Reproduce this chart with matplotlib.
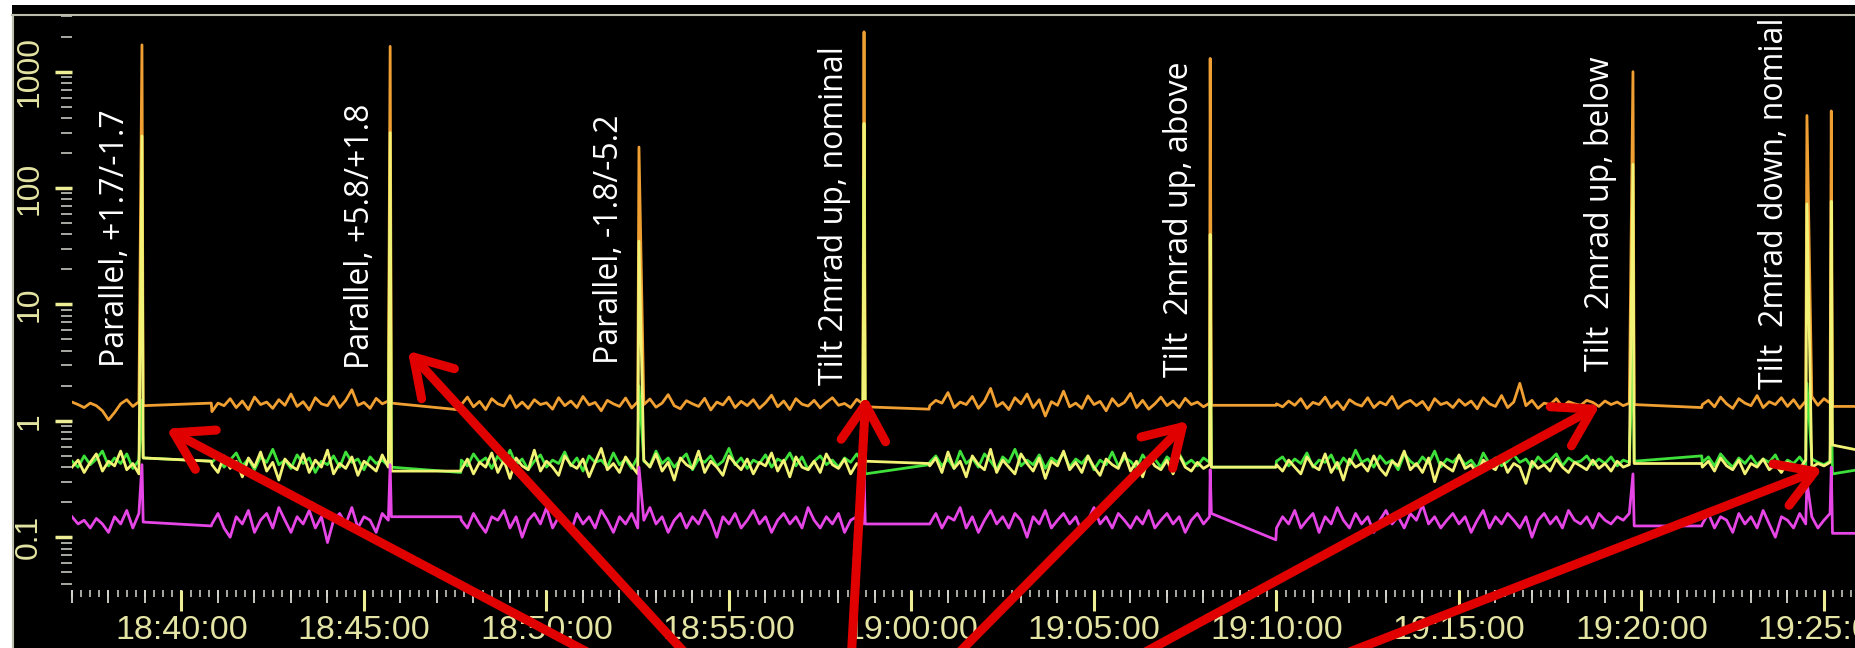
import numpy as np
import matplotlib
matplotlib.use("Agg")
import matplotlib.pyplot as plt
from matplotlib.ticker import MultipleLocator, FuncFormatter, LogLocator, NullFormatter
from matplotlib.lines import Line2D
from matplotlib.patches import Rectangle


def clock(s):
    h, m, sec = map(int, s.split(":"))
    return h * 3600 + m * 60 + sec


def hms(x, pos=None):
    x = int(round(x))
    return f"{x // 3600:02d}:{x % 3600 // 60:02d}:{x % 60:02d}"


# time axis
x_range = ["18:37:00", "19:25:51"]
seg_start = ["18:37:00", "18:40:50", "18:47:40", "19:00:30", "19:10:00", "19:21:40"]
seg_end = ["18:38:50", "18:45:40", "18:58:40", "19:08:10", "19:19:40", "19:25:10"]
spike_times = ["18:38:55", "18:45:43", "18:52:32", "18:58:42",
               "19:08:11", "19:19:46", "19:24:32", "19:25:12"]
gap_spike = [0, 1, 3, 4, 5]   # spikes followed by a data gap

yticks = [0.1, 1, 10, 100, 1000]
ytick_labels = ["0.1", "1", "10", "100", "1000"]

# orange trace
orange_noise = [
    [1.45, 1.38, 1.30, 1.42, 1.35, 1.22, 1.02, 1.18, 1.40, 1.52, 1.33, 1.46],
    [1.20, 1.42, 1.35, 1.55, 1.30, 1.48, 1.25, 1.60, 1.38, 1.45, 1.28, 1.52, 1.36, 1.70, 1.33,
     1.46, 1.24, 1.58, 1.40, 1.35, 1.62, 1.30, 1.50, 1.85, 1.36, 1.44, 1.28, 1.56, 1.40, 1.48],
    [1.38, 1.60, 1.32, 1.47, 1.25, 1.55, 1.40, 1.34, 1.65, 1.30, 1.45, 1.28, 1.52, 1.38, 1.43,
     1.26, 1.58, 1.35, 1.48, 1.30, 1.62, 1.37, 1.44, 1.22, 1.50, 1.40, 1.33, 1.57, 1.29, 1.46,
     1.38, 1.54, 1.31, 1.42, 1.68, 1.35, 1.27, 1.49, 1.40, 1.33, 1.56, 1.24, 1.45, 1.37, 1.60,
     1.30, 1.47, 1.35, 1.52, 1.28, 1.43, 1.66, 1.32, 1.48, 1.25, 1.55, 1.39, 1.34, 1.50, 1.29,
     1.44, 1.58, 1.36, 1.41, 1.30, 1.53, 1.40],
    [1.35, 1.50, 1.42, 1.75, 1.30, 1.45, 1.38, 1.62, 1.28, 1.48, 1.90, 1.33, 1.44, 1.25, 1.58,
     1.40, 1.70, 1.30, 1.52, 1.10, 1.46, 1.36, 1.80, 1.32, 1.42, 1.28, 1.64, 1.38, 1.47, 1.22,
     1.55, 1.34, 1.44, 1.72, 1.30, 1.50, 1.26, 1.40, 1.60, 1.35, 1.48, 1.30, 1.56, 1.38, 1.45,
     1.32, 1.42],
    [1.40, 1.32, 1.48, 1.36, 1.55, 1.28, 1.44, 1.38, 1.60, 1.30, 1.46, 1.25, 1.52, 1.40, 1.34,
     1.58, 1.30, 1.45, 1.37, 1.62, 1.28, 1.42, 1.50, 1.35, 1.47, 1.24, 1.55, 1.38, 1.44, 1.30,
     1.52, 1.36, 1.48, 1.27, 1.58, 1.40, 1.33, 1.65, 1.30, 1.45, 2.10, 1.35, 1.50, 1.28, 1.42,
     1.38, 1.55, 1.32, 1.46, 1.40, 1.36, 1.50, 1.44, 1.33, 1.48, 1.38, 1.45, 1.35, 1.42],
    [1.38, 1.50, 1.32, 1.60, 1.40, 1.28, 1.55, 1.42, 1.35, 1.65, 1.30, 1.46, 1.38, 1.58, 1.33,
     1.52, 1.28, 1.48, 1.62, 1.36, 1.55, 1.42],
]
orange_peaks = [1700, 1650, 225, 2200, 1300, 1000, 420, 460]
orange_gaps = [(1.35, 1.42), (1.42, 1.24), (1.32, 1.26), (1.36, 1.36), (1.38, 1.30)]
orange_tail = (1.33, 1.33)

# yellow trace
yellow_noise = [
    [0.40, 0.46, 0.36, 0.44, 0.52, 0.37, 0.45, 0.41, 0.55, 0.38, 0.43, 0.35],
    [0.42, 0.36, 0.50, 0.39, 0.45, 0.33, 0.48, 0.40, 0.54, 0.37, 0.44, 0.31, 0.47, 0.41, 0.38,
     0.52, 0.36, 0.46, 0.40, 0.56, 0.35, 0.43, 0.39, 0.49, 0.34, 0.45, 0.41, 0.37, 0.51, 0.40],
    [0.38, 0.47, 0.35, 0.44, 0.40, 0.53, 0.36, 0.46, 0.32, 0.48, 0.41, 0.38, 0.56, 0.37, 0.45,
     0.40, 0.34, 0.50, 0.42, 0.39, 0.47, 0.33, 0.44, 0.58, 0.38, 0.43, 0.36, 0.49, 0.41, 0.35,
     0.46, 0.40, 0.52, 0.37, 0.44, 0.31, 0.48, 0.42, 0.39, 0.55, 0.36, 0.45, 0.40, 0.34, 0.50,
     0.43, 0.38, 0.47, 0.35, 0.44, 0.41, 0.53, 0.37, 0.46, 0.33, 0.49, 0.40, 0.38, 0.45, 0.36,
     0.52, 0.42, 0.39, 0.47, 0.35, 0.43, 0.40],
    [0.41, 0.48, 0.36, 0.54, 0.39, 0.45, 0.33, 0.50, 0.42, 0.38, 0.57, 0.36, 0.46, 0.40, 0.35,
     0.52, 0.43, 0.37, 0.48, 0.32, 0.45, 0.41, 0.55, 0.38, 0.44, 0.36, 0.50, 0.40, 0.34, 0.47,
     0.42, 0.39, 0.53, 0.37, 0.45, 0.33, 0.49, 0.41, 0.38, 0.46, 0.35, 0.51, 0.40, 0.37, 0.44,
     0.39, 0.42],
    [0.42, 0.37, 0.46, 0.40, 0.35, 0.49, 0.41, 0.38, 0.52, 0.36, 0.44, 0.31, 0.47, 0.40, 0.43,
     0.37, 0.50, 0.39, 0.34, 0.45, 0.41, 0.55, 0.38, 0.43, 0.36, 0.48, 0.30, 0.44, 0.40, 0.37,
     0.51, 0.39, 0.42, 0.35, 0.46, 0.41, 0.38, 0.49, 0.36, 0.43, 0.40, 0.29, 0.45, 0.39, 0.42,
     0.37, 0.47, 0.40, 0.36, 0.44, 0.41, 0.38, 0.46, 0.39, 0.43, 0.37, 0.45, 0.40, 0.42],
    [0.40, 0.45, 0.37, 0.48, 0.41, 0.38, 0.46, 0.35, 0.43, 0.40, 0.47, 0.38, 0.42, 0.36, 0.44,
     0.41, 0.39, 0.46, 0.40, 0.43, 0.41, 0.44],
]
yellow_peaks = [280, 300, 35, 360, 40, 160, 73, 77]
yellow_gaps = [(0.48, 0.45), (0.37, 0.37), (0.45, 0.43), (0.40, 0.40), (0.43, 0.43)]
yellow_tail = (0.62, 0.56)

# green trace
green_noise = [
    [0.45, 0.40, 0.50, 0.42, 0.47, 0.55, 0.41, 0.48, 0.43, 0.52, 0.39, 0.46],
    [0.44, 0.50, 0.40, 0.46, 0.53, 0.41, 0.47, 0.38, 0.49, 0.44, 0.57, 0.42, 0.46, 0.39, 0.51,
     0.43, 0.48, 0.36, 0.45, 0.42, 0.50, 0.40, 0.54, 0.44, 0.47, 0.38, 0.49, 0.43, 0.46, 0.41],
    [0.46, 0.41, 0.52, 0.44, 0.48, 0.39, 0.50, 0.43, 0.56, 0.42, 0.47, 0.38, 0.45, 0.51, 0.40,
     0.46, 0.43, 0.54, 0.41, 0.48, 0.37, 0.50, 0.44, 0.46, 0.40, 0.53, 0.42, 0.47, 0.39, 0.49,
     0.45, 0.41, 0.55, 0.43, 0.48, 0.40, 0.46, 0.52, 0.38, 0.47, 0.44, 0.50, 0.41, 0.45, 0.58,
     0.42, 0.48, 0.39, 0.46, 0.43, 0.51, 0.40, 0.47, 0.44, 0.53, 0.41, 0.49, 0.38, 0.45, 0.50,
     0.42, 0.46, 0.40, 0.48, 0.44, 0.52, 0.43],
    [0.44, 0.50, 0.41, 0.47, 0.39, 0.55, 0.43, 0.48, 0.40, 0.52, 0.45, 0.38, 0.49, 0.44, 0.57,
     0.41, 0.46, 0.42, 0.51, 0.39, 0.48, 0.44, 0.53, 0.40, 0.47, 0.43, 0.50, 0.38, 0.46, 0.42,
     0.54, 0.41, 0.48, 0.45, 0.39, 0.51, 0.43, 0.47, 0.40, 0.49, 0.44, 0.52, 0.42, 0.46, 0.41,
     0.48, 0.44],
    [0.45, 0.49, 0.41, 0.47, 0.43, 0.53, 0.40, 0.46, 0.44, 0.51, 0.39, 0.48, 0.42, 0.56, 0.44,
     0.47, 0.40, 0.50, 0.43, 0.46, 0.38, 0.52, 0.45, 0.41, 0.49, 0.43, 0.55, 0.40, 0.47, 0.44,
     0.50, 0.42, 0.46, 0.39, 0.53, 0.43, 0.48, 0.41, 0.45, 0.51, 0.44, 0.47, 0.40, 0.49, 0.43,
     0.46, 0.52, 0.41, 0.48, 0.44, 0.45, 0.50, 0.42, 0.47, 0.43, 0.49, 0.41, 0.46, 0.44],
    [0.44, 0.49, 0.41, 0.52, 0.45, 0.40, 0.48, 0.43, 0.50, 0.42, 0.47, 0.44, 0.51, 0.40, 0.46,
     0.43, 0.49, 0.41, 0.47, 0.44, 0.42, 0.45],
]
green_peaks = [1.5, 45, 2.0, 120, 4.0, 4.8, 2.1, 1.5]
green_gaps = [(0.48, 0.45), (0.40, 0.36), (0.35, 0.42), (0.40, 0.40), (0.45, 0.50)]
green_tail = (0.35, 0.38)

# magenta trace
magenta_noise = [
    [0.15, 0.13, 0.14, 0.12, 0.145, 0.13, 0.11, 0.15, 0.13, 0.17, 0.12, 0.16],
    [0.13, 0.16, 0.12, 0.10, 0.15, 0.13, 0.17, 0.11, 0.14, 0.16, 0.12, 0.18, 0.14, 0.11, 0.15,
     0.13, 0.17, 0.12, 0.15, 0.09, 0.14, 0.16, 0.13, 0.18, 0.12, 0.15, 0.14, 0.11, 0.16, 0.14],
    [0.14, 0.12, 0.16, 0.13, 0.11, 0.15, 0.14, 0.17, 0.12, 0.15, 0.10, 0.14, 0.16, 0.13, 0.18,
     0.12, 0.15, 0.14, 0.11, 0.16, 0.13, 0.15, 0.12, 0.17, 0.14, 0.11, 0.15, 0.13, 0.16, 0.12,
     0.14, 0.18, 0.13, 0.15, 0.11, 0.14, 0.16, 0.12, 0.15, 0.13, 0.17, 0.14, 0.10, 0.15, 0.13,
     0.16, 0.12, 0.14, 0.17, 0.13, 0.15, 0.11, 0.14, 0.16, 0.13, 0.15, 0.12, 0.18, 0.14, 0.12,
     0.15, 0.13, 0.16, 0.11, 0.14, 0.15, 0.13],
    [0.13, 0.16, 0.12, 0.15, 0.14, 0.18, 0.12, 0.15, 0.11, 0.14, 0.17, 0.13, 0.15, 0.12, 0.16,
     0.14, 0.10, 0.15, 0.13, 0.17, 0.12, 0.14, 0.16, 0.13, 0.15, 0.11, 0.14, 0.18, 0.13, 0.15,
     0.12, 0.16, 0.14, 0.12, 0.15, 0.13, 0.17, 0.12, 0.14, 0.16, 0.13, 0.15, 0.11, 0.14, 0.16,
     0.13, 0.15],
    [0.12, 0.15, 0.13, 0.17, 0.12, 0.14, 0.16, 0.11, 0.15, 0.13, 0.18, 0.14, 0.12, 0.16, 0.13,
     0.15, 0.11, 0.14, 0.17, 0.13, 0.15, 0.12, 0.16, 0.14, 0.19, 0.13, 0.15, 0.12, 0.14, 0.16,
     0.13, 0.15, 0.11, 0.14, 0.17, 0.12, 0.15, 0.13, 0.16, 0.14, 0.12, 0.15, 0.10, 0.14, 0.16,
     0.13, 0.15, 0.12, 0.17, 0.14, 0.13, 0.15, 0.12, 0.16, 0.14, 0.13, 0.15, 0.14, 0.16],
    [0.13, 0.16, 0.12, 0.15, 0.14, 0.11, 0.16, 0.13, 0.15, 0.12, 0.17, 0.13, 0.10, 0.15, 0.14,
     0.12, 0.16, 0.13, 0.15, 0.12, 0.14, 0.16],
]
magenta_peaks = [0.42, 0.42, 0.40, 0.38, 0.38, 0.35, 0.30, 0.40]
magenta_gaps = [(0.135, 0.125), (0.15, 0.15), (0.13, 0.13), (0.16, 0.095), (0.125, 0.125)]
magenta_tail = (0.108, 0.108)

# annotations
label_texts = ["Parallel, +1.7/-1.7", "Parallel, +5.8/+1.8", "Parallel, -1.8/-5.2",
               "Tilt 2mrad up, nominal", "Tilt  2mrad up, above", "Tilt  2mrad up, below",
               "Tilt  2mrad down, nomial"]
label_times = ["18:38:11", "18:44:55", "18:51:43", "18:57:53", "19:07:21", "19:18:52", "19:23:38"]
label_values = [2.9, 2.8, 3.1, 2.03, 2.38, 2.67, 1.88]

arrow_tip_times = ["18:39:35", "18:46:12", "18:58:45", "19:07:35", "19:18:52", "19:24:58"]
arrow_tip_values = [0.855, 4.0, 1.64, 1.0, 1.37, 0.39]
arrow_tail_x = [0.319, 0.370, 0.459, 0.516, 0.615, 0.724]   # figure fraction, at bottom edge


def build(noise, peaks, gaps, tail):
    t, v = [], []
    for s0, s1, vals in zip(seg_start, seg_end, noise):
        t += list(np.linspace(clock(s0), clock(s1), len(vals)))
        v += vals
    for ts, p in zip(spike_times, peaks):
        t.append(clock(ts))
        v.append(p)
    for k, (a, b) in enumerate(gaps):
        t += [clock(spike_times[gap_spike[k]]) + 2, clock(seg_start[k + 1]) - 1]
        v += [a, b]
    t += [clock(spike_times[-1]) + 2, clock(x_range[1]) + 5]
    v += list(tail)
    order = np.argsort(t)
    return np.array(t)[order], np.array(v)[order]


W, H = 1855, 648
fig = plt.figure(figsize=(W / 100, H / 100), dpi=100, facecolor="white")

# black screen area with grey frame
fig.patches.append(Rectangle((12 / W, 0), 1, 1 - 5 / H, transform=fig.transFigure,
                             facecolor="black", edgecolor="none", zorder=-10))
frame_c = "#bdbdae"
fig.lines.append(Line2D([12 / W, 1], [1 - 15 / H] * 2, transform=fig.transFigure,
                        color=frame_c, lw=1.5, zorder=5))
fig.lines.append(Line2D([12.5 / W] * 2, [0, 1 - 15 / H], transform=fig.transFigure,
                        color=frame_c, lw=1.5, zorder=5))

ax = fig.add_axes([72 / W, 58 / H, (W - 72) / W, 575 / H])
ax.set_zorder(1)
ax.set_facecolor("black")
for sp in ax.spines.values():
    sp.set_visible(False)

series = [
    (orange_noise, orange_peaks, orange_gaps, orange_tail, "#f0a032"),
    (green_noise, green_peaks, green_gaps, green_tail, "#3ee03a"),
    (yellow_noise, yellow_peaks, yellow_gaps, yellow_tail, "#f2f276"),
    (magenta_noise, magenta_peaks, magenta_gaps, magenta_tail, "#e646e6"),
]
for i, (nz, pk, gp, tl, c) in enumerate(series):
    t, v = build(nz, pk, gp, tl)
    ax.plot(t, v, color=c, lw=2.0, zorder=2 + i)

ax.set_yscale("log")
ax.set_ylim(0.0352, 3070)
ax.set_xlim(clock(x_range[0]), clock(x_range[1]))

tick_c = "#e4e4a4"
lab_font = "Liberation Sans"
ax.set_yticks(yticks, labels=ytick_labels, rotation=90, va="center",
              fontsize=23, family=lab_font, color=tick_c)
ax.yaxis.set_minor_locator(LogLocator(base=10, subs=np.arange(2, 10), numticks=30))
ax.yaxis.set_minor_formatter(NullFormatter())
ax.tick_params(axis="y", which="major", length=12, width=2.5, color="#eeee96", pad=8)
ax.tick_params(axis="y", which="minor", length=8, width=1.1, color="#d8d8d0")

ax.xaxis.set_major_locator(MultipleLocator(300))
ax.xaxis.set_minor_locator(MultipleLocator(15))
ax.xaxis.set_major_formatter(FuncFormatter(hms))
ax.tick_params(axis="x", which="major", length=15, width=2.2, color="#eeee96", pad=3,
               labelsize=24.5, labelcolor=tick_c)
ax.tick_params(axis="x", which="minor", length=5, width=1.1, color="#d8d8d0")
for lab in ax.get_xticklabels():
    lab.set_family(lab_font)

# one-minute ticks
sec = ax.secondary_xaxis("bottom")
sec.xaxis.set_major_locator(MultipleLocator(60))
sec.xaxis.set_major_formatter(NullFormatter())
sec.tick_params(axis="x", length=9.5, width=1.3, color="#d8d8d0")
sec.spines["bottom"].set_visible(False)

for txt, tt, vv in zip(label_texts, label_times, label_values):
    ax.text(clock(tt), vv, txt, rotation=90, ha="center", va="bottom", color="white",
            fontsize=23, family="Open Sans", zorder=10)

for tt, vv, fx in zip(arrow_tip_times, arrow_tip_values, arrow_tail_x):
    ax.annotate("", xy=(clock(tt), vv), xycoords="data", xytext=(fx, -0.01),
                textcoords="figure fraction", annotation_clip=False, zorder=20,
                arrowprops=dict(arrowstyle="->,head_length=1.3,head_width=0.8",
                                mutation_scale=20, color="#e00000", lw=6.5,
                                shrinkA=0, shrinkB=0))

fig.savefig("out.png", dpi=100, facecolor="white")
